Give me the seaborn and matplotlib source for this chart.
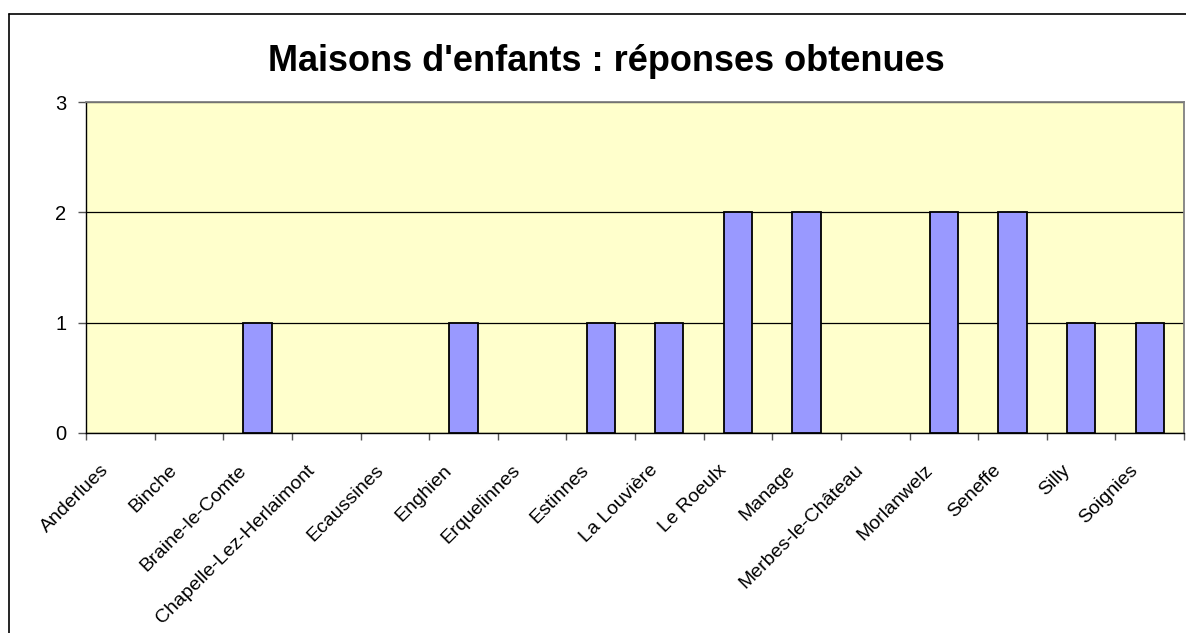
import matplotlib
matplotlib.use("Agg")
import matplotlib.pyplot as plt
import matplotlib.transforms as mtransforms
import seaborn as sns
import pandas as pd
import numpy as np
from matplotlib.lines import Line2D

communes = ["Anderlues", "Binche", "Braine-le-Comte", "Chapelle-Lez-Herlaimont",
            "Ecaussines", "Enghien", "Erquelinnes", "Estinnes", "La Louvière",
            "Le Roeulx", "Manage", "Merbes-le-Château", "Morlanwelz", "Seneffe",
            "Silly", "Soignies"]
reponses = [0, 0, 1, 0, 0, 1, 0, 1, 1, 2, 2, 0, 2, 2, 1, 1]
y_ticks = [0, 1, 2, 3]
title = "Maisons d'enfants : réponses obtenues"

sns.set_theme(style="white")
plt.rcParams['font.family'] = ['Liberation Sans', 'DejaVu Sans']

df = pd.DataFrame({"commune": communes, "reponses": reponses})

W, H = 1186, 633
fig = plt.figure(figsize=(W / 100, H / 100), dpi=100)
fig.patch.set_facecolor("white")
ax = fig.add_axes([86 / W, 1 - 433 / H, (1184 - 86) / W, (433 - 102) / H])
ax.set_facecolor("#FFFFCC")

sns.barplot(data=df, x="commune", y="reponses", color="#9999FF",
            width=0.41, edgecolor="black", linewidth=1.3, saturation=1,
            ax=ax, zorder=3)
for p in ax.patches:
    if p.get_height() == 0:
        p.set_visible(False)

ax.set_ylim(0, 3)
ax.set_xlim(-0.5, len(communes) - 0.5)
ax.set_yticks(y_ticks)
ax.set_yticklabels([str(t) for t in y_ticks], fontsize=14.5, color="black")
ax.yaxis.grid(True, color="black", linewidth=0.9, zorder=1)
ax.set_axisbelow(True)

ax.set_xticks(range(len(communes)))
ax.set_xticklabels(communes, rotation=45, ha="right", va="center",
                   rotation_mode="anchor", fontsize=14, color="black")
ax.tick_params(axis="x", which="major", length=0, pad=25)
offset = mtransforms.ScaledTranslation(-14 / 100, 0, fig.dpi_scale_trans)
for lab in ax.get_xticklabels():
    lab.set_transform(lab.get_transform() + offset)
ax.set_xticks(np.arange(-0.5, len(communes), 1), minor=True)
ax.tick_params(axis="x", which="minor", length=5, width=1, color="#555555",
               direction="out", bottom=True)
ax.tick_params(axis="y", which="major", length=6, width=1, color="#555555",
               direction="out", left=True, pad=8)
ax.set_xlabel("")
ax.set_ylabel("")

for side in ["top", "right"]:
    ax.spines[side].set_color("#808080")
    ax.spines[side].set_linewidth(1.3)
for side in ["left", "bottom"]:
    ax.spines[side].set_color("black")
    ax.spines[side].set_linewidth(1.0)

fig.text(606 / W, 1 - 71 / H, title, ha="center", va="baseline",
         fontsize=26, fontweight="bold", color="black")

# chart-area border (left and top)
fig.add_artist(Line2D([9 / W, 9 / W], [0, 1 - 14 / H], color="black",
                      linewidth=1.2, transform=fig.transFigure))
fig.add_artist(Line2D([9 / W, 1], [1 - 14 / H, 1 - 14 / H], color="black",
                      linewidth=1.2, transform=fig.transFigure))

fig.savefig("out.png", dpi=100)
